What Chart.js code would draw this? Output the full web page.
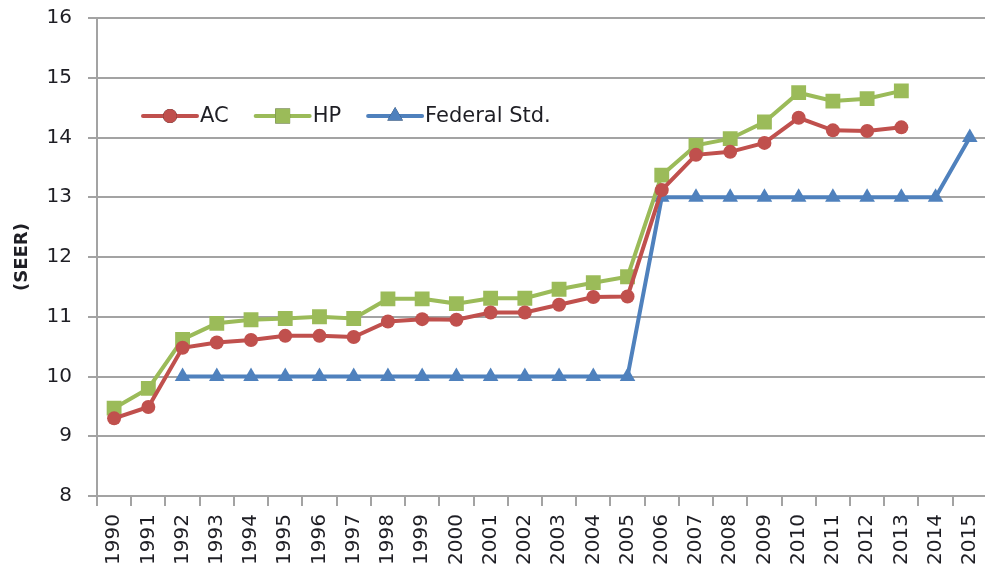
<!DOCTYPE html>
<html>
<head>
<meta charset="utf-8">
<script src="https://cdn.jsdelivr.net/npm/chart.js@4"></script>
<style>
  html, body { margin: 0; padding: 0; background: #fff; overflow: hidden; }
  #wrap { width: 1002px; height: 569px; }
</style>
</head>
<body>
<div id="wrap"><canvas id="seerChart"></canvas></div>
<script>
const years = ['1990', '1991', '1992', '1993', '1994', '1995', '1996', '1997', '1998', '1999',
               '2000', '2001', '2002', '2003', '2004', '2005', '2006', '2007', '2008', '2009',
               '2010', '2011', '2012', '2013', '2014', '2015'];
const acValues = [9.30, 9.49, 10.48, 10.57, 10.61, 10.68, 10.68, 10.66, 10.92, 10.96,
                  10.95, 11.07, 11.07, 11.20, 11.33, 11.34, 13.12, 13.71, 13.76, 13.91,
                  14.33, 14.12, 14.11, 14.17, null, null];
const hpValues = [9.47, 9.80, 10.62, 10.89, 10.95, 10.97, 11.00, 10.97, 11.30, 11.30,
                  11.22, 11.31, 11.31, 11.46, 11.57, 11.67, 13.37, 13.87, 13.98, 14.26,
                  14.75, 14.61, 14.65, 14.78, null, null];
const fedValues = [null, null, 10, 10, 10, 10, 10, 10, 10, 10,
                   10, 10, 10, 10, 10, 10, 13, 13, 13, 13,
                   13, 13, 13, 13, 13, 14];
const yTicks = [8, 9, 10, 11, 12, 13, 14, 15, 16];

const gridGrey = '#a3a3a3';
const textColor = '#1e1e24';
const fontFamily = '"DejaVu Sans", sans-serif';

// legend drawn inside the plot, line + marker like the original
const insideLegend = {
    id: 'insideLegend',
    afterDatasetsDraw(chart) {
        const ctx = chart.ctx;
        const area = chart.chartArea;
        const y = 116;
        let x = area.left + 46;
        ctx.save();
        chart.data.datasets.forEach(ds => {
            ctx.strokeStyle = ds.borderColor;
            ctx.lineWidth = ds.borderWidth;
            ctx.lineCap = 'round';
            ctx.beginPath();
            ctx.moveTo(x, y);
            ctx.lineTo(x + 54, y);
            ctx.stroke();
            Chart.helpers.drawPoint(ctx, {
                pointStyle: ds.pointStyle,
                radius: ds.pointRadius,
                rotation: 0,
                borderWidth: 0
            }, x + 27, y);
            ctx.fillStyle = ds.borderColor;
            ctx.fill();
            ctx.fillStyle = textColor;
            ctx.font = '21px ' + fontFamily;
            ctx.textBaseline = 'middle';
            ctx.textAlign = 'left';
            ctx.fillText(ds.label, x + 57, y + 1);
            x += 57 + ctx.measureText(ds.label).width + 27;
        });
        ctx.restore();
    }
};

const ctx = document.getElementById('seerChart').getContext('2d');
new Chart(ctx, {
    type: 'line',
    data: {
        labels: years,
        datasets: [
            {
                label: 'AC',
                data: acValues,
                borderColor: '#C0504D',
                backgroundColor: '#C0504D',
                borderWidth: 4,
                pointStyle: 'circle',
                pointRadius: 7,
                pointBorderWidth: 0
            },
            {
                label: 'HP',
                data: hpValues,
                borderColor: '#9BBB59',
                backgroundColor: '#9BBB59',
                borderWidth: 4,
                pointStyle: 'rect',
                pointRadius: 10.5,
                pointBorderWidth: 0
            },
            {
                label: 'Federal Std.',
                data: fedValues,
                borderColor: '#4F81BD',
                backgroundColor: '#4F81BD',
                borderWidth: 4,
                pointStyle: 'triangle',
                pointRadius: 9,
                pointBorderWidth: 0
            }
        ]
    },
    options: {
        responsive: true,
        maintainAspectRatio: false,
        animation: false,
        layout: {
            padding: { top: 18, right: 0, bottom: 0, left: 0 }
        },
        plugins: {
            legend: { display: false },
            tooltip: { enabled: false }
        },
        elements: {
            line: { tension: 0 }
        },
        scales: {
            x: {
                type: 'category',
                offset: true,
                afterFit: scale => { scale.height = 73; },
                grid: {
                    offset: true,
                    drawOnChartArea: false,
                    color: gridGrey,
                    lineWidth: 2,
                    tickLength: 10
                },
                border: { color: gridGrey, width: 2 },
                ticks: {
                    autoSkip: false,
                    minRotation: 90,
                    maxRotation: 90,
                    padding: 8,
                    color: textColor,
                    font: { family: fontFamily, size: 20 }
                }
            },
            y: {
                min: 8,
                max: 16,
                afterFit: scale => {
                    scale.width = 97;
                    scale.paddingTop = 0;
                    scale.paddingBottom = 0;
                },
                afterBuildTicks: scale => { scale.ticks = yTicks.map(v => ({ value: v })); },
                grid: {
                    color: gridGrey,
                    lineWidth: 2,
                    tickLength: 9
                },
                border: { color: gridGrey, width: 2 },
                ticks: {
                    padding: 16,
                    color: textColor,
                    font: { family: fontFamily, size: 20 }
                },
                title: {
                    display: true,
                    text: '(SEER)',
                    color: textColor,
                    padding: { top: 12, bottom: 0 },
                    font: { family: fontFamily, size: 18, weight: 'bold' }
                }
            }
        }
    },
    plugins: [insideLegend]
});
</script>
</body>
</html>
